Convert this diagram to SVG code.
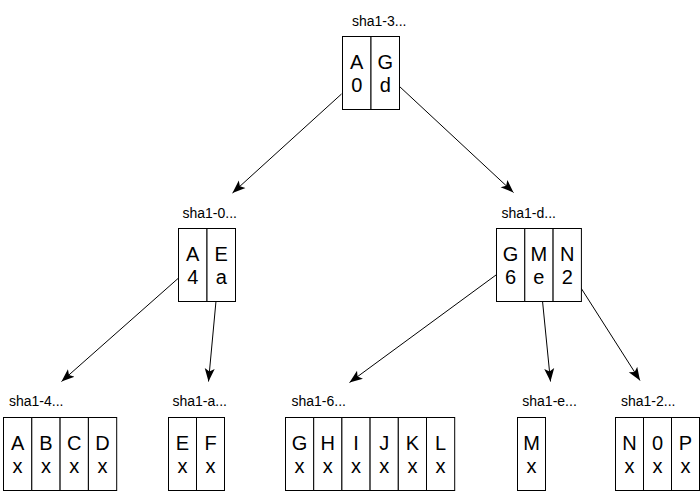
<svg xmlns="http://www.w3.org/2000/svg" width="700" height="491" viewBox="0 0 700 491">
<defs>
<style>
.cell{fill:#fff;stroke:#000;stroke-width:1}
.t{font-family:"Liberation Sans",Arial,sans-serif;font-size:20px;fill:#000;text-anchor:middle}
.lbl{font-family:"Liberation Sans",Arial,sans-serif;font-size:14px;fill:#000}
.edge{stroke:#000;stroke-width:1;fill:none;marker-end:url(#ah)}
</style>
<marker id="ah" markerUnits="userSpaceOnUse" markerWidth="14" markerHeight="12" viewBox="0 0 14 12" refX="13" refY="6" orient="auto">
<path d="M0,1 L13,6 L0,11 L3,6 z" fill="#000"/>
</marker>
</defs>
<rect width="700" height="491" fill="#fff"/>
<g id="connectors">
<line class="edge" x1="341.5" y1="94" x2="232.5" y2="193"/>
<line class="edge" x1="399" y1="86" x2="513.5" y2="192.5"/>
<line class="edge" x1="178" y1="278.5" x2="61.5" y2="381.5"/>
<line class="edge" x1="216" y1="301" x2="208.5" y2="381.5"/>
<line class="edge" x1="496" y1="275" x2="349.5" y2="382.5"/>
<line class="edge" x1="542.5" y1="301" x2="550.5" y2="381.5"/>
<line class="edge" x1="581" y1="288" x2="640" y2="380.5"/>
</g>
<g id="node-sha1-3">
<text class="lbl" x="352" y="26">sha1-3...</text>
<rect class="cell" x="342.5" y="36.5" width="28.5" height="73"/>
<rect class="cell" x="371" y="36.5" width="28.5" height="73"/>
<text class="t" x="356.7" y="69">A</text><text class="t" x="356.7" y="92">0</text>
<text class="t" x="385.2" y="69">G</text><text class="t" x="385.2" y="92">d</text>
</g>
<g id="node-sha1-0">
<text class="lbl" x="182.5" y="218">sha1-0...</text>
<rect class="cell" x="178.5" y="228.5" width="28.5" height="73"/>
<rect class="cell" x="207" y="228.5" width="28.5" height="73"/>
<text class="t" x="192.7" y="261">A</text><text class="t" x="192.7" y="284">4</text>
<text class="t" x="221.2" y="261">E</text><text class="t" x="221.2" y="284">a</text>
</g>
<g id="node-sha1-d">
<text class="lbl" x="501.5" y="218">sha1-d...</text>
<rect class="cell" x="496.5" y="228.5" width="28.3" height="73"/>
<rect class="cell" x="524.8" y="228.5" width="28.3" height="73"/>
<rect class="cell" x="553.1" y="228.5" width="28.3" height="73"/>
<text class="t" x="510.6" y="261">G</text><text class="t" x="510.6" y="284">6</text>
<text class="t" x="538.9" y="261">M</text><text class="t" x="538.9" y="284">e</text>
<text class="t" x="567.2" y="261">N</text><text class="t" x="567.2" y="284">2</text>
</g>
<g id="node-sha1-4">
<text class="lbl" x="9" y="406">sha1-4...</text>
<rect class="cell" x="3.5" y="417.5" width="28.3" height="73"/>
<rect class="cell" x="31.8" y="417.5" width="28.3" height="73"/>
<rect class="cell" x="60.1" y="417.5" width="28.3" height="73"/>
<rect class="cell" x="88.4" y="417.5" width="28.3" height="73"/>
<text class="t" x="17.6" y="450">A</text><text class="t" x="17.6" y="473">x</text>
<text class="t" x="45.9" y="450">B</text><text class="t" x="45.9" y="473">x</text>
<text class="t" x="74.2" y="450">C</text><text class="t" x="74.2" y="473">x</text>
<text class="t" x="102.5" y="450">D</text><text class="t" x="102.5" y="473">x</text>
</g>
<g id="node-sha1-a">
<text class="lbl" x="172.5" y="406">sha1-a...</text>
<rect class="cell" x="168.5" y="417.5" width="28" height="73"/>
<rect class="cell" x="196.5" y="417.5" width="28" height="73"/>
<text class="t" x="182.5" y="450">E</text><text class="t" x="182.5" y="473">x</text>
<text class="t" x="210.5" y="450">F</text><text class="t" x="210.5" y="473">x</text>
</g>
<g id="node-sha1-6">
<text class="lbl" x="291.5" y="406">sha1-6...</text>
<rect class="cell" x="285.5" y="417.5" width="28.2" height="73"/>
<rect class="cell" x="313.7" y="417.5" width="28.2" height="73"/>
<rect class="cell" x="341.9" y="417.5" width="28.2" height="73"/>
<rect class="cell" x="370.1" y="417.5" width="28.2" height="73"/>
<rect class="cell" x="398.3" y="417.5" width="28.2" height="73"/>
<rect class="cell" x="426.5" y="417.5" width="28.2" height="73"/>
<text class="t" x="299.6" y="450">G</text><text class="t" x="299.6" y="473">x</text>
<text class="t" x="327.8" y="450">H</text><text class="t" x="327.8" y="473">x</text>
<text class="t" x="356" y="450">I</text><text class="t" x="356" y="473">x</text>
<text class="t" x="384.2" y="450">J</text><text class="t" x="384.2" y="473">x</text>
<text class="t" x="412.4" y="450">K</text><text class="t" x="412.4" y="473">x</text>
<text class="t" x="440.6" y="450">L</text><text class="t" x="440.6" y="473">x</text>
</g>
<g id="node-sha1-e">
<text class="lbl" x="522.3" y="406">sha1-e...</text>
<rect class="cell" x="517.5" y="417.5" width="28" height="73"/>
<text class="t" x="531.5" y="450">M</text><text class="t" x="531.5" y="473">x</text>
</g>
<g id="node-sha1-2">
<text class="lbl" x="621" y="406">sha1-2...</text>
<rect class="cell" x="615.5" y="417.5" width="28" height="73"/>
<rect class="cell" x="643.5" y="417.5" width="28" height="73"/>
<rect class="cell" x="671.5" y="417.5" width="28" height="73"/>
<text class="t" x="629.5" y="450">N</text><text class="t" x="629.5" y="473">x</text>
<text class="t" x="657.5" y="450">0</text><text class="t" x="657.5" y="473">x</text>
<text class="t" x="685.5" y="450">P</text><text class="t" x="685.5" y="473">x</text>
</g>
</svg>
